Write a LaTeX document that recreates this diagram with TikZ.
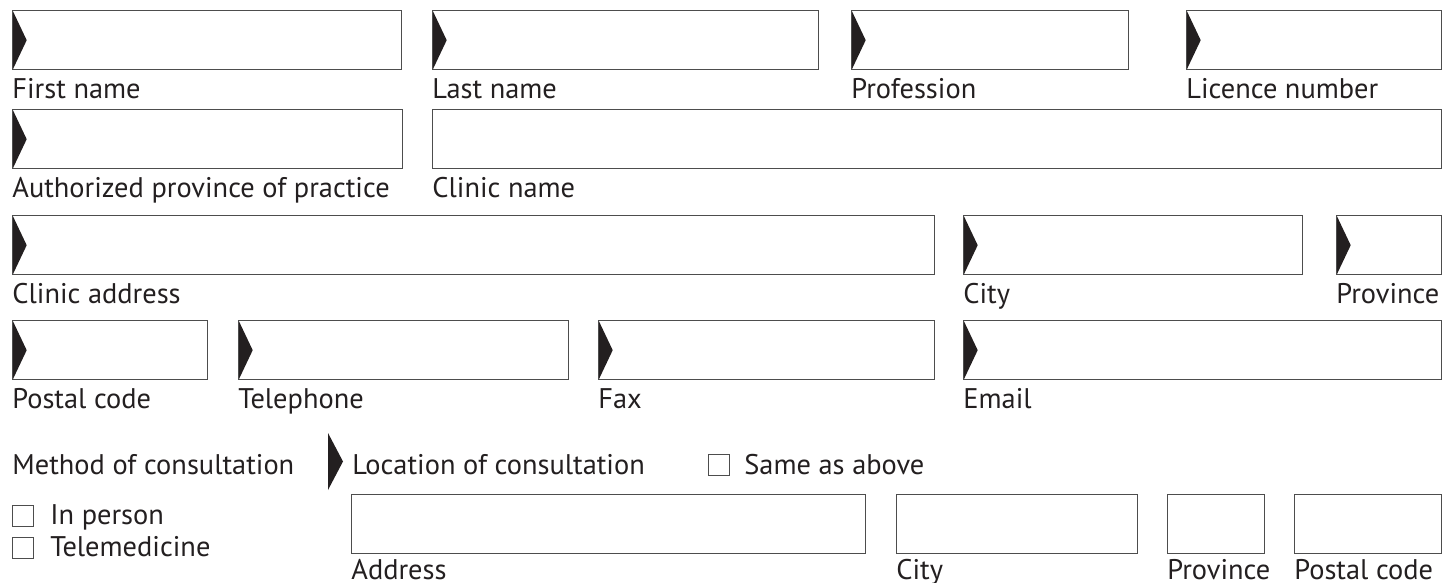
\documentclass[tikz,border=0pt]{standalone}
\usepackage{fontspec}
\setmainfont{PT Sans}
\usepackage{xcolor}
\usepackage{tikz}
\usetikzlibrary{positioning}
\definecolor{ink}{HTML}{231F20}
\definecolor{rule}{HTML}{4D4D4D}

\begin{document}
\begin{tikzpicture}[
  x=0.5pt,y=-0.5pt,
  field/.style={draw=rule,line width=0.7pt,minimum height=29.5pt,inner sep=0pt,anchor=north west},
  tfield/.style={field,path picture={
    \fill[ink] (path picture bounding box.north west) -- ([xshift=7pt]path picture bounding box.west)
      -- (path picture bounding box.south west) -- cycle;}},
  lbl/.style={font=\fontsize{14.2}{16}\selectfont,text=ink,inner sep=0pt,anchor=base west,yshift=-14pt},
  txt/.style={font=\fontsize{14.2}{16}\selectfont,text=ink,inner sep=0pt,anchor=base west},
  chk/.style={draw=rule,line width=0.5pt,minimum size=10.5pt,inner sep=0pt,anchor=north west}]
\useasboundingbox (0,0) rectangle (1452,583);
% row 1
\node[tfield,minimum width=194.5pt] (first) at (12,10) {};
\node[tfield,minimum width=193pt] (last) at (432,10) {};
\node[tfield,minimum width=138.5pt] (prof) at (851,10) {};
\node[tfield,minimum width=127.5pt] (lic) at (1186,10) {};
\node[lbl] at (first.south west) {First name};
\node[lbl] at (last.south west) {Last name};
\node[lbl] at (prof.south west) {Profession};
\node[lbl] at (lic.south west) {Licence number};
% row 2
\node[tfield,minimum width=195pt] (auth) at (12,109) {};
\node[field,minimum width=504.5pt] (clinic) at (432,109) {};
\node[lbl] at (auth.south west) {Authorized province of practice};
\node[lbl] at (clinic.south west) {Clinic name};
% row 3
\node[tfield,minimum width=461pt] (addr) at (12,215) {};
\node[tfield,minimum width=169.5pt] (city) at (963,215) {};
\node[tfield,minimum width=52.5pt] (prov) at (1336,215) {};
\node[lbl] at (addr.south west) {Clinic address};
\node[lbl] at (city.south west) {City};
\node[lbl] at (prov.south west) {Province};
% row 4
\node[tfield,minimum width=97.5pt] (postal) at (12,320) {};
\node[tfield,minimum width=165pt] (tel) at (238,320) {};
\node[tfield,minimum width=168pt] (fax) at (598,320) {};
\node[tfield,minimum width=239pt] (email) at (963,320) {};
\node[lbl] at (postal.south west) {Postal code};
\node[lbl] at (tel.south west) {Telephone};
\node[lbl] at (fax.south west) {Fax};
\node[lbl] at (email.south west) {Email};
% consultation
\node[txt] (method) at (12,474) {Method of consultation};
\node[chk] (inperson) at (12,505) {};
\node[chk] (tele) at (12,537) {};
\node[txt] at (50,524) {In person};
\node[txt] at (50,556) {Telemedicine};
\fill[ink] (328,433) -- (343,461.5) -- (328,490) -- cycle;
\node[txt] (loc) at (352,474) {Location of consultation};
\node[chk] (same) at (708,454) {};
\node[txt] at (744,474) {Same as above};
\node[field,minimum width=257pt] (caddr) at (351,494) {};
\node[field,minimum width=120.5pt] (ccity) at (896,494) {};
\node[field,minimum width=48.5pt] (cprov) at (1167,494) {};
\node[field,minimum width=73.5pt] (cpostal) at (1294,494) {};
\node[lbl,yshift=1.5pt] at (caddr.south west) {Address};
\node[lbl,yshift=1.5pt] at (ccity.south west) {City};
\node[lbl,yshift=1.5pt] at (cprov.south west) {Province};
\node[lbl,yshift=1.5pt] at (cpostal.south west) {Postal code};
\end{tikzpicture}
\end{document}
